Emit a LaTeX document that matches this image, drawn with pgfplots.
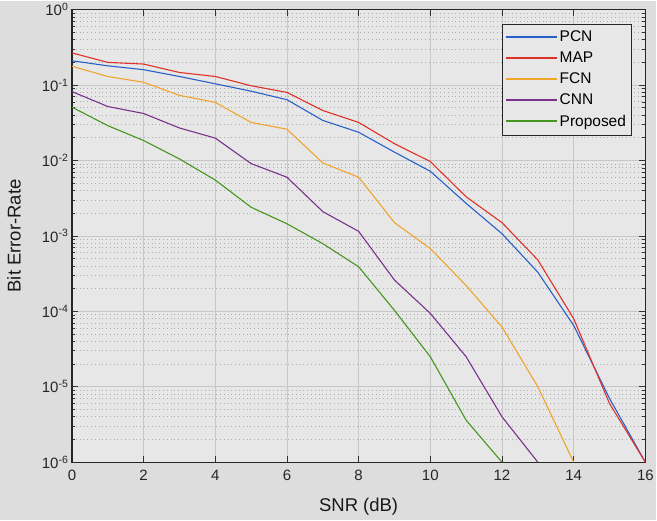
\documentclass[border=0pt]{standalone}
\usepackage{pgfplots}
\pgfplotsset{compat=1.18}
\usepackage{fontspec}
\setmainfont{Liberation Sans}
\definecolor{figbg}{RGB}{221,221,221}
\definecolor{axbg}{RGB}{231,231,231}
\definecolor{cpcn}{RGB}{40,95,200}
\definecolor{cmap}{RGB}{222,50,40}
\definecolor{cfcn}{RGB}{240,165,45}
\definecolor{ccnn}{RGB}{120,50,140}
\definecolor{cprop}{RGB}{70,150,30}
\begin{document}
\begin{tikzpicture}
\fill[figbg] (-72bp,-58bp) rectangle (585bp,462bp);
\begin{axis}[
  scale only axis, width=574bp, height=453bp,
  xmin=0, xmax=16, ymin=1e-6, ymax=1, ymode=log,
  xtick={0,2,...,16},
  ytick={1e-6,1e-5,1e-4,1e-3,1e-2,1e-1,1},
  yticklabels={10\textsuperscript{-6},10\textsuperscript{-5},10\textsuperscript{-4},10\textsuperscript{-3},10\textsuperscript{-2},10\textsuperscript{-1},10\textsuperscript{0}},
  /pgf/number format/assume math mode=true,
  tick label style={font=\fontsize{15bp}{18bp}\selectfont, color=black!85},
  xticklabel style={yshift=-4bp},
  tick align=inside, tick pos=both,
  major tick length=6bp, minor tick length=3bp,
  every tick/.style={black!80, line width=0.6bp},
  axis background/.style={fill=axbg},
  axis line style={black!85, line width=1.2bp},
  grid=both,
  major grid style={color=black!22, line width=0.6bp},
  minor grid style={color=black!32, dash pattern=on 0.8bp off 3bp, line width=0.7bp},
  xlabel={SNR (dB)}, ylabel={Bit Error-Rate},
  label style={font=\fontsize{18.5bp}{22bp}\selectfont, color=black!90},
  xlabel style={at={(axis description cs:0.5,-0.0993)}, anchor=center},
  ylabel style={at={(axis description cs:-0.101,0.5)}, anchor=center},
  legend cell align=left,
  legend style={at={(0.9756,0.969)}, anchor=north east, fill=axbg, draw=black!85,
    line width=0.8bp, font=\fontsize{15.5bp}{18bp}\selectfont, row sep=4.8bp,
    inner xsep=3bp, inner ysep=5bp},
  legend image code/.code={\draw[#1, line width=1.8bp] (0bp,0.5bp) -- (51bp,0.5bp);},
  every axis plot/.append style={line width=1.1bp},
]
\addplot[cpcn] coordinates {(0,0.21)(1,0.18)(2,0.16)(3,0.13)(4,0.104)(5,0.083)(6,0.064)(7,0.034)(8,0.0237)(9,0.0129)(10,0.0072)(11,0.0027)(12,0.00107)(13,3.3e-4)(14,6.5e-5)(15,7e-6)(16,1e-6)};
\addplot[cmap] coordinates {(0,0.267)(1,0.20)(2,0.19)(3,0.147)(4,0.13)(5,0.098)(6,0.080)(7,0.046)(8,0.032)(9,0.0167)(10,0.0097)(11,0.0033)(12,0.0015)(13,4.8e-4)(14,8e-5)(15,6e-6)(16,1e-6)};
\addplot[cfcn] coordinates {(0,0.178)(1,0.13)(2,0.109)(3,0.073)(4,0.059)(5,0.032)(6,0.026)(7,0.0093)(8,0.006)(9,0.0015)(10,6.8e-4)(11,2.2e-4)(12,6.2e-5)(13,1e-5)(14,1e-6)};
\addplot[ccnn] coordinates {(0,0.082)(1,0.052)(2,0.042)(3,0.027)(4,0.0198)(5,0.0091)(6,0.006)(7,0.0021)(8,0.00115)(9,2.6e-4)(10,9.4e-5)(11,2.5e-5)(12,4e-6)(13,1e-6)};
\addplot[cprop] coordinates {(0,0.051)(1,0.029)(2,0.0184)(3,0.0105)(4,0.0055)(5,0.0024)(6,0.00145)(7,0.00079)(8,3.9e-4)(9,1.03e-4)(10,2.5e-5)(11,3.6e-6)(12,1e-6)};
\legend{PCN,MAP,FCN,CNN,Proposed}
\end{axis}
\end{tikzpicture}
\end{document}
